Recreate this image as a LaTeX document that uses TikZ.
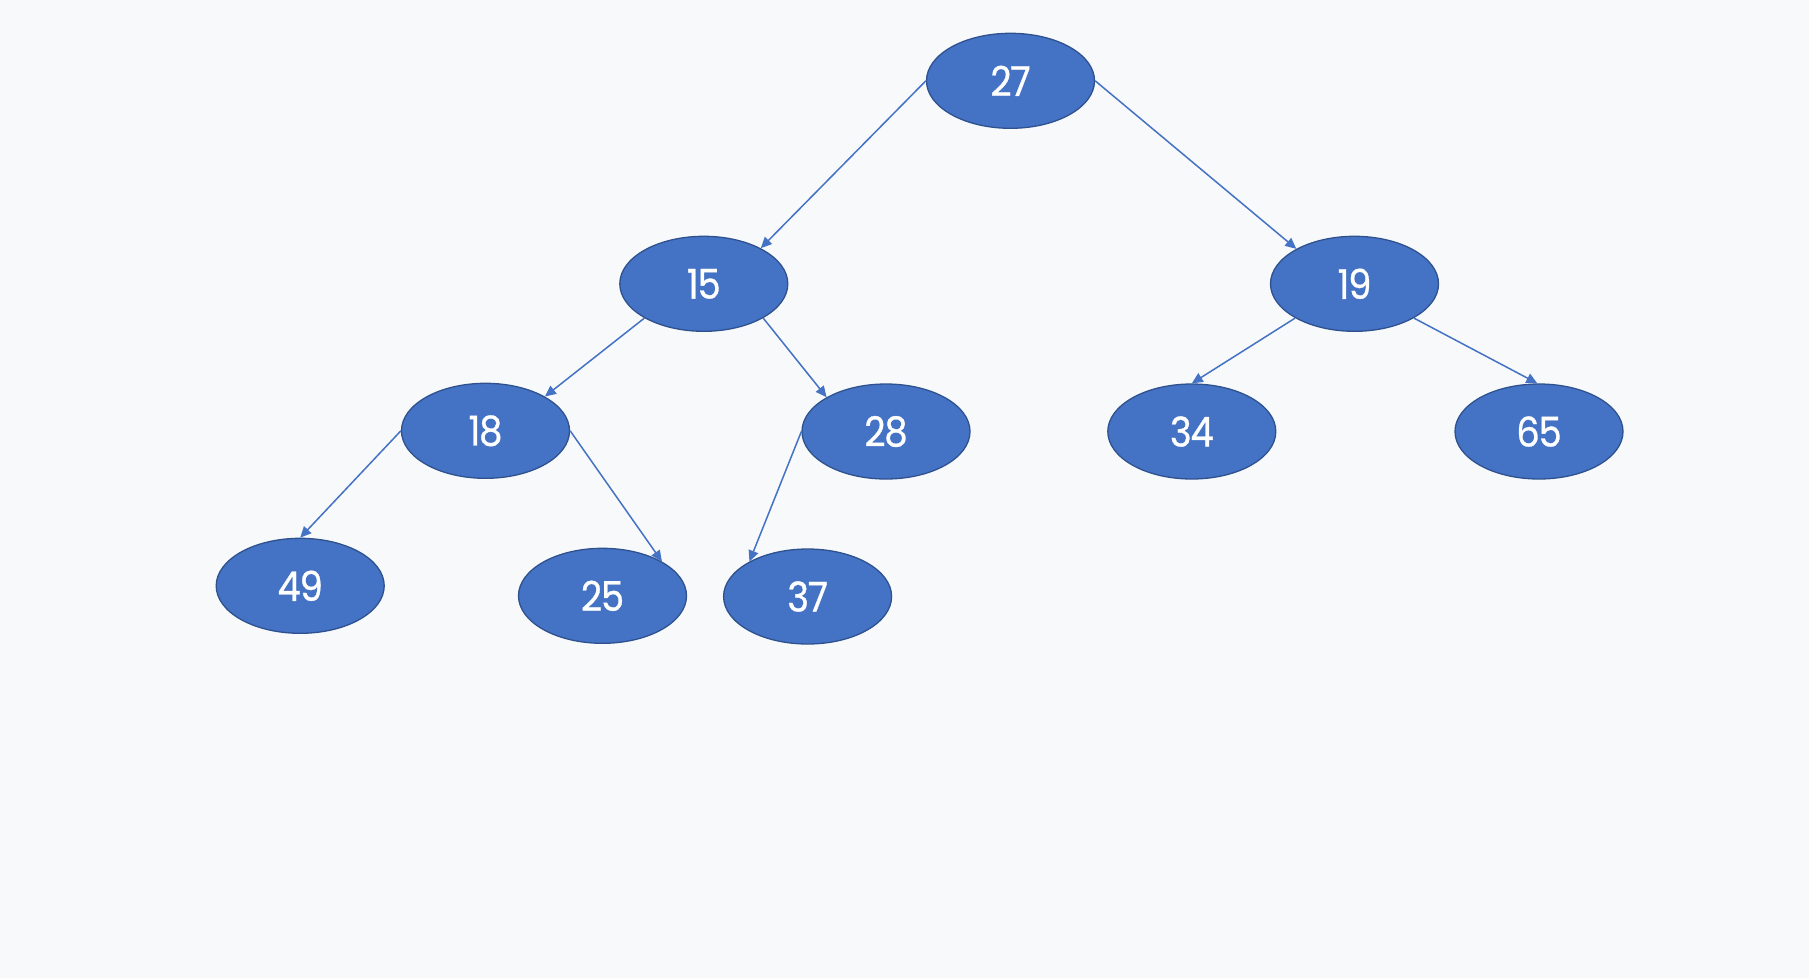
\documentclass[tikz,border=0pt]{standalone}
\usepackage{fontspec}
\setmainfont{Poppins}
\newfontfamily\digitfont{Poppins}[FakeBold=0.8,FakeStretch=0.9,LetterSpace=-3]
\usetikzlibrary{shapes.geometric,arrows.meta}
\definecolor{bg}{RGB}{247,249,251}
\definecolor{nodefill}{RGB}{68,114,196}
\definecolor{nodeline}{RGB}{47,82,143}
\definecolor{edgecol}{RGB}{68,114,196}
\tikzset{
  treenode/.style={ellipse, fill=nodefill, draw=nodeline, line width=1.3pt,
    minimum width=168pt, minimum height=95pt, inner sep=0pt,
    text=white, font=\digitfont\fontsize{41}{41}\selectfont},
  edge/.style={draw=edgecol, line width=1.5pt, -{Triangle[length=11pt,width=10pt]}}
}
\begin{document}
\begin{tikzpicture}[x=1pt,y=-1pt]
\fill[bg] (0,0) rectangle (1809,978);
\useasboundingbox (0,0) rectangle (1809,978);
\node[treenode] (n27) at (1010.5,80.8) {27};
\node[treenode] (n15) at (703.8,283.8) {15};
\node[treenode] (n19) at (1354.5,283.8) {19};
\node[treenode] (n18) at (485.5,430.8) {18};
\node[treenode] (n28) at (886.0,431.5) {28};
\node[treenode] (n34) at (1191.8,431.5) {34};
\node[treenode] (n65) at (1539.0,431.5) {65};
\node[treenode] (n49) at (300.2,585.8) {49};
\node[treenode] (n25) at (602.5,595.8) {25};
\node[treenode] (n37) at (807.6,596.5) {37};
\draw[edge] (n27.west) -- (n15.32);
\draw[edge] (n27.east) -- (n19.149);
\draw[edge] (n15.210) -- (n18.30);
\draw[edge] (n15.330) -- (n28.150);
\draw[edge] (n18.west) -- (n49.north);
\draw[edge] (n18.east) -- (n25.30);
\draw[edge] (n28.west) -- (n37.149);
\draw[edge] (n19.210) -- (n34.north);
\draw[edge] (n19.330) -- (n65.92);
\end{tikzpicture}
\end{document}
